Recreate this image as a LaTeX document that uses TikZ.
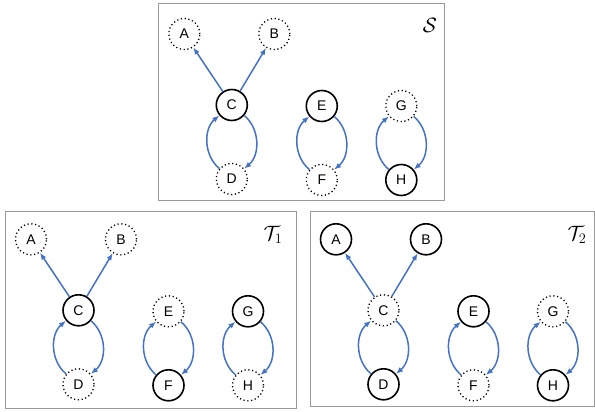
\documentclass[tikz,border=0pt]{standalone}
\usepackage[no-math]{fontspec}
\setmainfont{Liberation Sans}
\usetikzlibrary{arrows.meta}
\definecolor{arrowblue}{RGB}{68,114,196}
\tikzset{
 vnode/.style={circle, minimum size=31pt, inner sep=0pt, font=\fontsize{14}{16}\selectfont},
 obs/.style={vnode, draw=black, line width=1.6pt},
 hid/.style={vnode, draw=black, line width=1.3pt, dash pattern=on 1.2pt off 2.6pt},
 edge/.style={draw=arrowblue, line width=1.5pt, -{Latex[length=7pt,width=5.5pt]}},
 panelbox/.style={draw=black!40, line width=1pt},
 plabel/.style={font=\fontsize{20}{22}\selectfont}
}
\newcommand\drawpanel[9]{%
 \node[#2] (#1A) at (0,0) {A};
 \node[#3] (#1B) at (90,0) {B};
 \node[#4] (#1C) at (47.5,71) {C};
 \node[#5] (#1D) at (47.5,145) {D};
 \node[#6] (#1E) at (137.5,72) {E};
 \node[#7] (#1F) at (137.5,146) {F};
 \node[#8] (#1G) at (217,72) {G};
 \node[#9] (#1H) at (217,146) {H};
 \draw[edge] (#1C) -- (#1A);
 \draw[edge] (#1C) -- (#1B);
 \draw[edge] (#1D) to[bend left=50] (#1C);
 \draw[edge] (#1C) to[bend left=50] (#1D);
 \draw[edge] (#1F) to[bend left=50] (#1E);
 \draw[edge] (#1E) to[bend left=50] (#1F);
 \draw[edge] (#1H) to[bend left=50] (#1G);
 \draw[edge] (#1G) to[bend left=50] (#1H);
}
\begin{document}
\begin{tikzpicture}[x=1pt,y=-1pt]
\useasboundingbox (0,0) rectangle (595,412);
% panel boxes
\draw[panelbox] (158,4) rectangle (444,200.5);
\draw[panelbox] (5,211.5) rectangle (296,408);
\draw[panelbox] (310,211) rectangle (594,406.5);
% labels
\node[plabel] (lS) at (430,25) {$\mathcal{S}$};
\node[plabel] (lT1) at (273,235) {$\mathcal{T}_1$};
\node[plabel] (lT2) at (577,235) {$\mathcal{T}_2$};
\begin{scope}[shift={(184.3,34)}]
 \drawpanel{s}{hid}{hid}{obs}{hid}{obs}{hid}{hid}{obs}
\end{scope}
\begin{scope}[shift={(31,239.3)}]
 \drawpanel{t}{hid}{hid}{obs}{hid}{hid}{obs}{obs}{hid}
\end{scope}
\begin{scope}[shift={(336,239.3)}]
 \drawpanel{u}{obs}{obs}{hid}{obs}{obs}{hid}{hid}{obs}
\end{scope}
\end{tikzpicture}
\end{document}
